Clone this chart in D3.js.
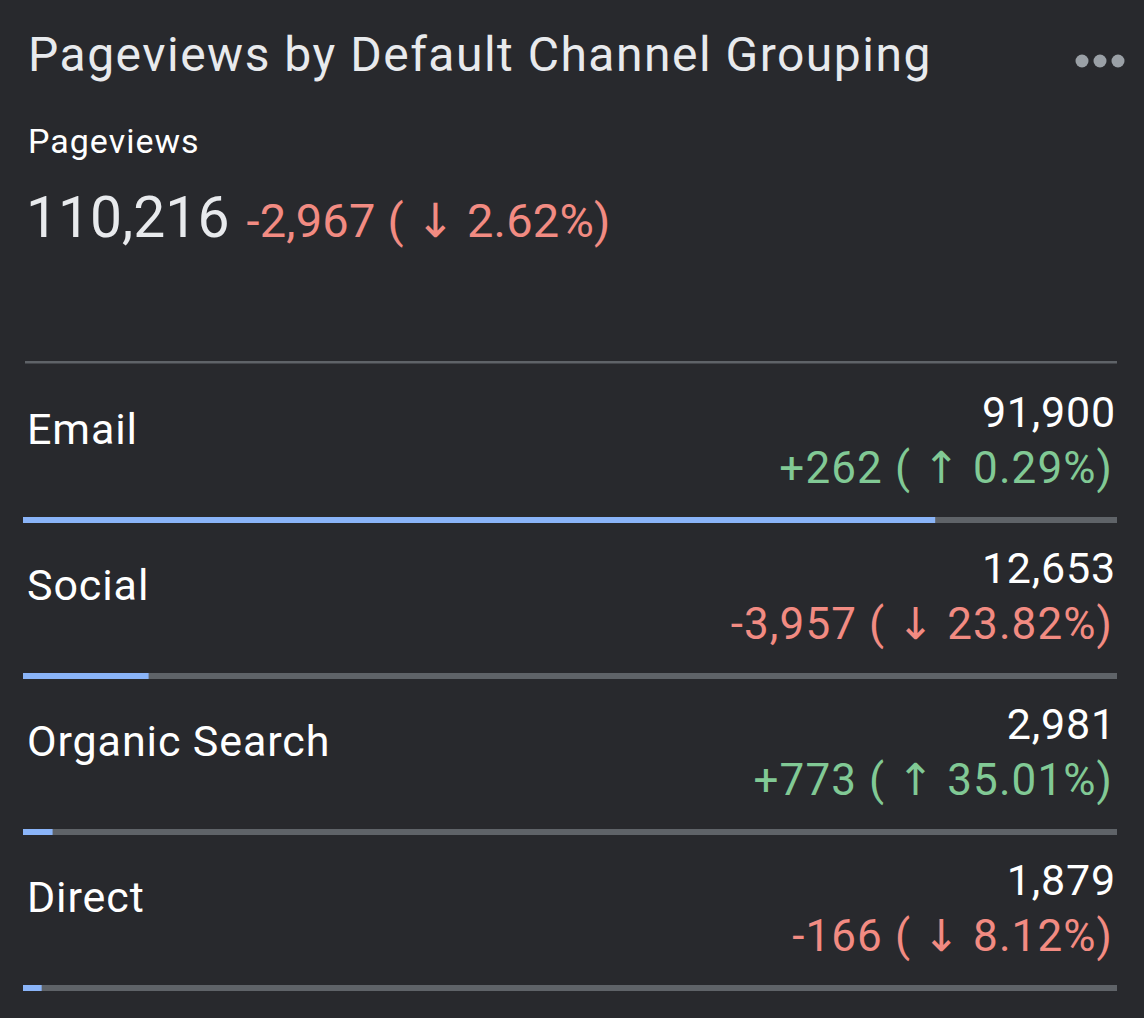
<!DOCTYPE html>
<html>
<head>
<meta charset="utf-8">
<script src="https://cdn.jsdelivr.net/npm/d3@7"></script>
<style>
	html, body { margin: 0; padding: 0; background: #28292d; }
	text { font-family: Roboto, "Noto Sans", sans-serif; }
	.arrow { font-family: "DejaVu Sans", sans-serif; }
</style>
</head>
<body>
<div class="viz"></div>
<script>
let channels = ["Email", "Social", "Organic Search", "Direct"];
let pageviews = [91900, 12653, 2981, 1879];
let changes = [262, -3957, 773, -166];
let changePct = [0.29, -23.82, 35.01, -8.12];

let totalPageviews = 110216
	, totalChange = -2967
	, totalPct = -2.62;

let width = 1144, height = 1018;

let colors = {
	bg: '#28292d',
	title: '#e8eaed',
	text: '#ffffff',
	up: '#81c995',
	down: '#f28b82',
	bar: '#8ab4f8',
	track: '#5f6368',
	dots: '#9aa0a6'
};

let fmt = d3.format(',')
	, pct = d3.format('.2f');

let svg = d3.select('.viz').append('svg')
	.attr('width', width)
	.attr('height', height);

svg.append('rect')
	.attr('width', width)
	.attr('height', height)
	.attr('fill', colors.bg);

// header
svg.append('text')
	.attr('x', 28)
	.attr('y', 71)
	.attr('fill', colors.title)
	.style('font-size', '48px')
	.style('letter-spacing', '1.5px')
	.text('Pageviews by Default Channel Grouping');

svg.append('g')
	.selectAll('circle')
	.data([0, 1, 2])
	.enter().append('circle')
	.attr('cx', function(d) { return 1082 + d * 18; })
	.attr('cy', 61)
	.attr('r', 6.5)
	.attr('fill', colors.dots);

svg.append('text')
	.attr('x', 28)
	.attr('y', 153)
	.attr('fill', colors.text)
	.style('font-size', '34px')
	.style('letter-spacing', '1px')
	.text('Pageviews');

// "-2,967 ( ↓ 2.62%)" split so the arrow can use a heavier glyph
function changeText(sel, d, p) {
	sel.append('tspan')
		.text((d < 0 ? '-' : '+') + fmt(Math.abs(d)) + ' ( ');
	sel.append('tspan')
		.attr('class', 'arrow')
		.text(d < 0 ? '\u2193' : '\u2191');
	sel.append('tspan')
		.text(' ' + pct(Math.abs(p)) + '%)');
}

let big = svg.append('text')
	.attr('x', 26)
	.attr('y', 237);

big.append('tspan')
	.attr('fill', colors.title)
	.style('font-size', '57px')
	.text(fmt(totalPageviews));

big.append('tspan')
	.attr('dx', 17)
	.attr('fill', totalChange < 0 ? colors.down : colors.up)
	.style('font-size', '47px')
	.style('letter-spacing', '0.2px')
	.call(changeText, totalChange, totalPct);

// rows
let x = d3.scaleLinear()
	.domain([0, totalPageviews])
	.range([23, 1117]);

let y = d3.scaleBand()
	.domain(channels)
	.range([364, 364 + 156 * channels.length])
	.padding(0);

svg.append('rect')
	.attr('x', 25)
	.attr('y', 361)
	.attr('width', 1117 - 25)
	.attr('height', 2.5)
	.attr('fill', colors.track);

let rows = svg.append('g')
	.selectAll('g')
	.data(channels.map(function(c, i) {
		return {name: c, value: pageviews[i], change: changes[i], pct: changePct[i]};
	}))
	.enter().append('g')
	.attr('transform', function(d) { return 'translate(0,' + y(d.name) + ')'; });

rows.append('text')
	.attr('x', 27)
	.attr('y', 80)
	.attr('fill', colors.text)
	.style('font-size', '43px')
	.style('letter-spacing', '0.9px')
	.text(function(d) { return d.name; });

rows.append('text')
	.attr('x', 1116)
	.attr('y', 63)
	.attr('text-anchor', 'end')
	.attr('fill', colors.text)
	.style('font-size', '43px')
	.style('letter-spacing', '0.8px')
	.text(function(d) { return fmt(d.value); });

rows.append('text')
	.attr('x', 1113)
	.attr('y', 119)
	.attr('text-anchor', 'end')
	.attr('fill', function(d) { return d.change < 0 ? colors.down : colors.up; })
	.style('font-size', '44px')
	.style('letter-spacing', '1.1px')
	.each(function(d) { d3.select(this).call(changeText, d.change, d.pct); });

rows.append('rect')
	.attr('x', x(0))
	.attr('y', 153)
	.attr('width', x(totalPageviews) - x(0))
	.attr('height', 6)
	.attr('fill', colors.track);

rows.append('rect')
	.attr('x', x(0))
	.attr('y', 153)
	.attr('width', function(d) { return x(d.value) - x(0); })
	.attr('height', 6)
	.attr('fill', colors.bar);
</script>
</body>
</html>
